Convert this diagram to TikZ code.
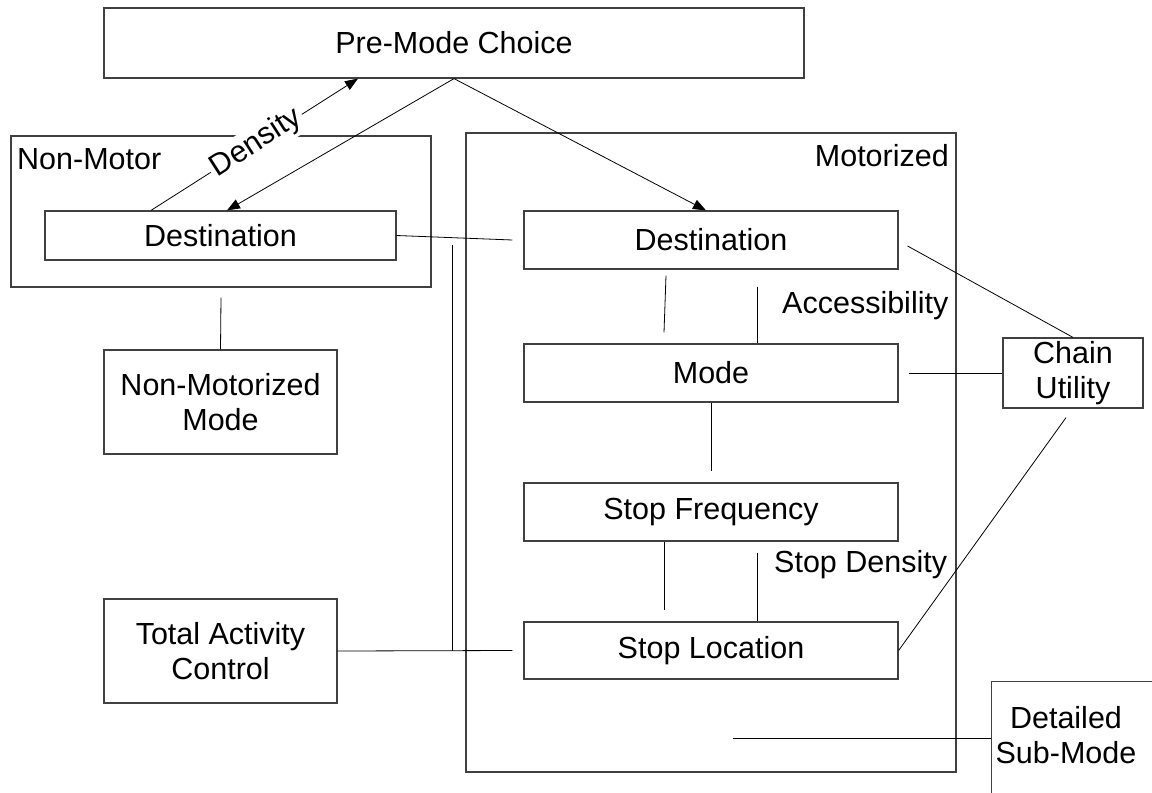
\documentclass[tikz,border=0pt]{standalone}
\usepackage{fontspec}
\setmainfont{Liberation Sans}
\usetikzlibrary{arrows.meta,calc}

\begin{document}
\begin{tikzpicture}[x=1pt,y=-1pt,
  every node/.style={font=\fontsize{30.5}{35.5}\selectfont},
  box/.style={draw=black!75, line width=1.2pt, inner sep=0pt, align=center},
  conn/.style={draw=black, line width=0.8pt},
  arr/.style={conn, -{Triangle[length=13pt,width=10pt]}},
  lbl/.style={inner sep=0pt}
]
\useasboundingbox (0,0) rectangle (1152,793);

% group frames
\node[box, minimum width=420pt, minimum height=151pt] (nonmotor) at (221,211.5) {};
\node[box, minimum width=490pt, minimum height=639pt] (motor) at (711,452.5) {};
\node[lbl, anchor=base west] (nonmotorlbl) at (17,169) {Non-Motor};
\node[lbl, anchor=base east] (motorlbl) at (949,166) {Motorized};

% model steps
\node[box, minimum width=700pt, minimum height=70pt] (pm) at (454,43) {Pre-Mode Choice};
\node[box, minimum width=351pt, minimum height=49pt] (ldest) at (220.5,235.5) {Destination};
\node[box, minimum width=233pt, minimum height=104pt] (nmm) at (220.5,402) {Non-Motorized\\Mode};
\node[box, minimum width=233pt, minimum height=104pt] (tac) at (220.5,651) {Total Activity\\Control};
\node[box, minimum width=374pt, minimum height=58pt] (mdest) at (711,240) {Destination};
\node[box, minimum width=374pt, minimum height=58pt] (mode) at (711,373) {Mode};
\node[box, minimum width=374pt, minimum height=58pt] (sfreq) at (711,512) {Stop Frequency};
\node[box, minimum width=374pt, minimum height=57pt] (sloc) at (711,650.5) {Stop Location};
\node[box, minimum width=140pt, minimum height=70pt] (chain) at (1073,373) {Chain\\Utility};
\node[box, anchor=north west, minimum width=200pt, minimum height=150pt] (dsm) at (991,681) {};
\node[lbl, align=center] (dsmtext) at (1066,735) {Detailed\\Sub-Mode};

% arrows from and to the pre-mode choice
\draw[arr] ($(ldest.north)+(-69.5,0)$) -- ($(pm.south)+(-96,0)$);
\draw[arr] (pm.south) -- ($(ldest.north)+(6.5,0)$);
\draw[arr] (pm.south) -- ($(mdest.north)+(-5,0)$);
\node[lbl, rotate=32.7, fill=white, inner sep=3pt] (density) at (256,143) {Density};

% links on the left
\draw[conn] (ldest.east) -- ($(mdest.west)+(-11,0)$);
\coordinate (vtop) at (452,245);
\coordinate (vbot) at (452,651);
\draw[conn] (vtop) -- (vbot);
\draw[conn] (tac.east) -- ($(sloc.west)+(-11,0)$);
\draw[conn] ($(nonmotor.south)+(0,10)$) -- (nmm.north);

% links inside the motorized chain
\draw[conn] ($(mdest.south)+(-45,6)$) -- ($(mode.north)+(-47,-11)$);
\draw[conn] ($(mdest.south)+(46,17)$) -- ($(mode.north)+(46,0)$);
\draw[conn] (mode.south) -- ($(sfreq.north)+(0,-11)$);
\draw[conn] ($(sfreq.south)+(-47,0)$) -- ($(sloc.north)+(-47,-11)$);
\draw[conn] ($(sfreq.south)+(46,11)$) -- ($(sloc.north)+(46,0)$);
\node[lbl, anchor=base west] (access) at (782,313) {Accessibility};
\node[lbl, anchor=base west] (stopdens) at (774,572) {Stop Density};

% links to the chain utility
\draw[conn] ($(mdest.east)+(9,6)$) -- (chain.north);
\draw[conn] ($(mode.east)+(10,0)$) -- (chain.west);
\draw[conn] (sloc.east) -- ($(chain.south)+(-7,9)$);

% link to the detailed sub-mode
\coordinate (dsmin) at (733,738);
\draw[conn] (dsmin) -- ($(dsm.north west)+(0,57)$);
\end{tikzpicture}
\end{document}
